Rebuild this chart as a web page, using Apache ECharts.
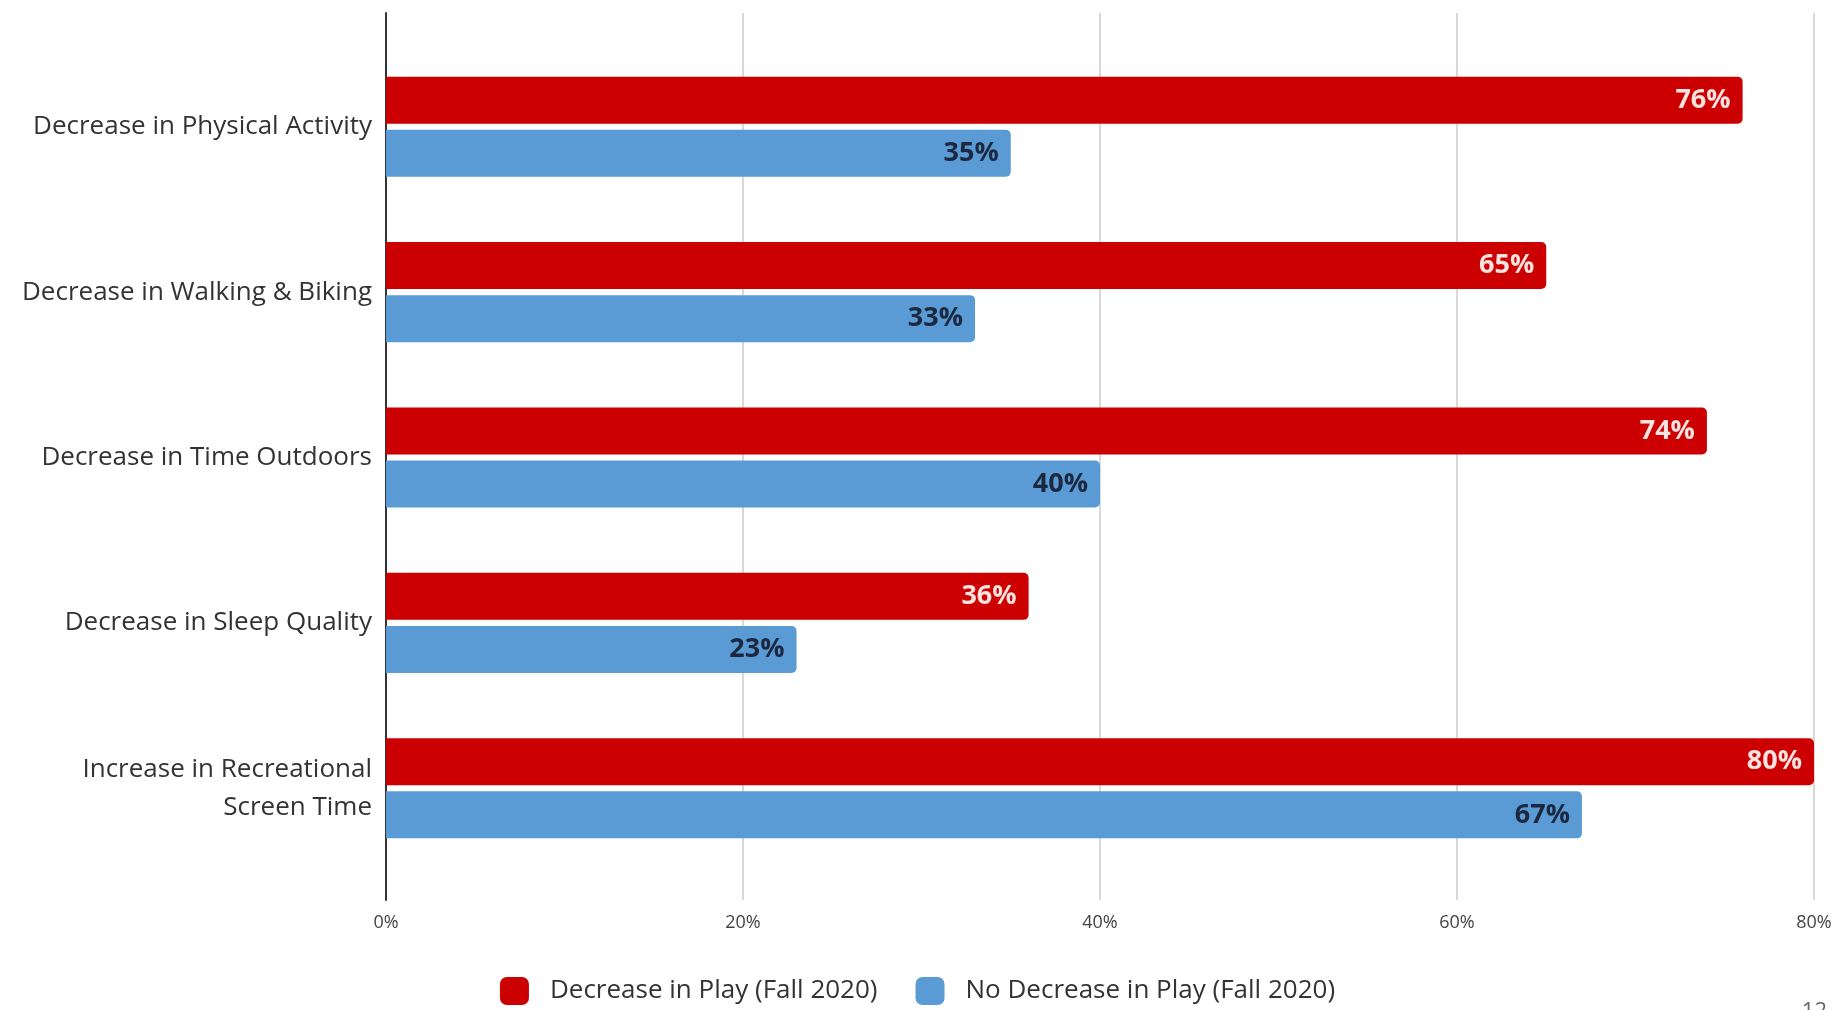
<!DOCTYPE html>
<html>
<head>
<meta charset="utf-8">
<script src="https://cdn.jsdelivr.net/npm/echarts@6/dist/echarts.min.js"></script>
<style>
  html, body { margin: 0; padding: 0; background: #fff; }
  #chart { width: 1835px; height: 1010px; }
</style>
</head>
<body>
<div id="chart"></div>
<script>
// categories, top to bottom
const categories = [
  'Decrease in Physical Activity',
  'Decrease in Walking & Biking',
  'Decrease in Time Outdoors',
  'Decrease in Sleep Quality',
  'Increase in Recreational\nScreen Time',
]
const seriesNames = ['Decrease in Play (Fall 2020)', 'No Decrease in Play (Fall 2020)']
const decreasePlay   = [76, 65, 74, 36, 80]
const noDecreasePlay = [35, 33, 40, 23, 67]
const xTicks = { min: 0, max: 80, interval: 20 }

const RED  = '#cc0000'
const BLUE = '#5b9bd5'
const FONT = '"Open Sans", "DejaVu Sans", sans-serif'

const chart = echarts.init(document.getElementById('chart'))

// grid 0: tall frame (grid lines + axis line), grid 1: the bars
chart.setOption({
  animation: false,
  textStyle: { fontFamily: FONT },
  legend: {
    data: seriesNames,
    top: 972,
    left: 'center',
    icon: 'roundRect',
    itemWidth: 29,
    itemHeight: 28,
    itemGap: 38,
    textStyle: { fontSize: 26, color: '#333', padding: [0, 0, 0, 16] },
  },
  grid: [
    { left: 386, right: 21, top: 13, bottom: 110 },
    { left: 386, right: 21, top: 44, height: 827 },
  ],
  xAxis: [
    {
      gridIndex: 0, type: 'value', ...xTicks,
      axisLine: { show: false },
      axisTick: { show: false },
      splitLine: { lineStyle: { color: '#cccccc', width: 1.5 } },
      axisLabel: { formatter: '{value}%', fontSize: 18, color: '#444', margin: 14 },
    },
    {
      gridIndex: 1, type: 'value', ...xTicks,
      show: false,
    },
  ],
  yAxis: [
    {
      gridIndex: 0, type: 'value', min: 0, max: 1,
      axisLine: { show: true, onZero: false, lineStyle: { color: '#333', width: 2 } },
      axisTick: { show: false },
      axisLabel: { show: false },
      splitLine: { show: false },
    },
    {
      gridIndex: 1, type: 'category', data: categories, inverse: true,
      axisLine: { show: false },
      axisTick: { show: false },
      axisLabel: { fontSize: 26, color: '#333', margin: 14, align: 'right', lineHeight: 38 },
    },
  ],
  series: [
    {
      name: seriesNames[0],
      type: 'bar',
      xAxisIndex: 1, yAxisIndex: 1,
      data: decreasePlay,
      barWidth: 47,
      barGap: '13%',
      itemStyle: { color: RED, borderRadius: [0, 5, 5, 0] },
      label: {
        show: true, position: 'insideRight', distance: 12,
        formatter: '{c}%', fontSize: 27, fontWeight: 'bold', color: '#fbe3e0',
      },
    },
    {
      name: seriesNames[1],
      type: 'bar',
      xAxisIndex: 1, yAxisIndex: 1,
      data: noDecreasePlay,
      barWidth: 47,
      barGap: '13%',
      itemStyle: { color: BLUE, borderRadius: [0, 5, 5, 0] },
      label: {
        show: true, position: 'insideRight', distance: 12,
        formatter: '{c}%', fontSize: 27, fontWeight: 'bold', color: '#1c2840',
      },
    },
  ],
  // page number cut off at the bottom edge
  graphic: [{
    type: 'text', right: 8, top: 1001,
    style: { text: '12', fontSize: 22, fill: '#666', fontFamily: FONT },
  }],
})
</script>
</body>
</html>
